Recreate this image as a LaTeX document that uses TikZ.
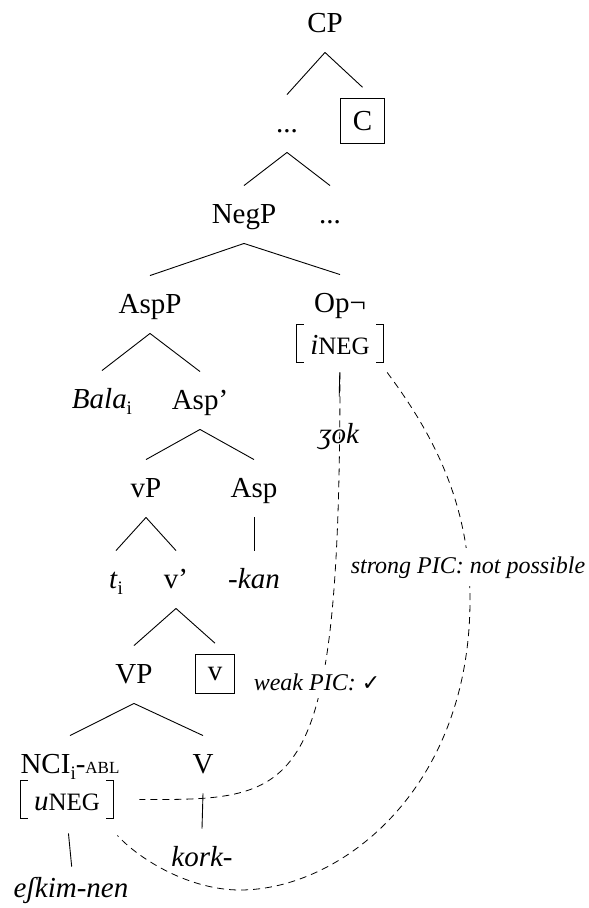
\documentclass[tikz,border=0pt]{standalone}
\usepackage{fontspec}
\setmainfont{Liberation Serif}
\newfontfamily\checkfont{DejaVu Sans}
\newcommand\subi{\raisebox{-6pt}{\fontsize{19}{19}\selectfont\upshape i}}
\newcommand\smallcapsfake[1]{{\fontsize{17}{17}\selectfont #1}}
\newcommand\featcaps[1]{{\fontsize{25}{25}\selectfont\upshape #1}}
\newcommand\featbr[1]{%
  \draw[brk] ([xshift=7pt]#1.north west) -- (#1.north west) -- (#1.south west) -- ([xshift=7pt]#1.south west);
  \draw[brk] ([xshift=-7pt]#1.north east) -- (#1.north east) -- (#1.south east) -- ([xshift=-7pt]#1.south east);}
\begin{document}
\begin{tikzpicture}[x=1pt,y=-1pt,line width=0.9pt,
  tn/.style={font=\fontsize{29}{34}\selectfont, anchor=base, text height=24pt, text depth=7pt, inner xsep=1pt, inner ysep=13pt},
  boxnode/.style={draw, line width=1pt, font=\fontsize{29}{34}\selectfont, inner xsep=12pt, inner ysep=13pt, outer ysep=11pt},
  feat/.style={font=\fontsize{29}{34}\selectfont, anchor=base, text height=29pt, text depth=8pt, inner xsep=13pt, inner ysep=0pt},
  brk/.style={line width=1pt},
  lbl/.style={font=\fontsize{24}{28}\selectfont\itshape, anchor=base, fill=white, inner xsep=4pt, inner ysep=8pt},
  picline/.style={dash pattern=on 7pt off 5pt, line width=0.8pt}
]
\useasboundingbox (0,0) rectangle (589,908);
% nodes
\node[tn] (CP) at (325,32) {CP};
\node[tn] (d1) at (287,132) {...};
\node[boxnode] (Cb) at (362.5,121) {C};
\node[tn] (NegP) at (244,223) {NegP};
\node[tn] (d2) at (330,223) {...};
\node[tn] (AspP) at (150,313) {AspP};
\node[tn] (Op) at (340,312) {Op¬};
\node[feat] (ineg) at (340,354) {\textit{i}\featcaps{NEG}};
\node[tn] (Bala) at (102,408) {\textit{Bala}\subi};
\node[tn] (Aspbar) at (200,409) {Asp’};
\node[tn] (zok) at (339,443) {\textit{ʒok}};
\node[tn] (vP) at (146,497) {vP};
\node[tn] (Asp) at (254,497) {Asp};
\node[tn] (t) at (116,588) {\textit{t}\subi};
\node[tn] (vbar) at (176,588) {v’};
\node[tn] (kan) at (254,588) {\textit{-kan}};
\node[tn] (VP) at (134,683) {VP};
\node[boxnode] (vb) at (215,674) {v};
\node[tn] (NCI) at (70,773) {NCI\subi-\smallcapsfake{ABL}};
\node[tn] (V) at (203,773) {V};
\node[feat] (uneg) at (67,810) {\textit{u}\featcaps{NEG}};
\node[tn] (kork) at (202,866) {\textit{kork-}};
\node[tn] (eskim) at (71,897) {\textit{eʃkim-nen}};
\featbr{ineg}
\featbr{uneg}
% branches
\draw (CP.south) -- (d1.north);
\draw (CP.south) -- (Cb.north);
\draw (d1.south) -- (NegP.north);
\draw (d1.south) -- (d2.north);
\draw (NegP.south) -- (AspP.north);
\draw (NegP.south) -- (Op.north);
\draw (AspP.south) -- (Bala.north);
\draw (AspP.south) -- (Aspbar.north);
\draw (Aspbar.south) -- (vP.north);
\draw (Aspbar.south) -- (Asp.north);
\draw (vP.south) -- (t.north);
\draw (vP.south) -- (vbar.north);
\draw (Asp.south) -- (kan.north);
\draw (vbar.south) -- (VP.north);
\draw (vbar.south) -- (vb.north);
\draw (VP.south) -- (NCI.north);
\draw (VP.south) -- (V.north);
\draw (V.south) -- (kork.north);
\draw[shorten <=10pt, shorten >=9pt] (ineg.south) -- (zok.north);
\draw[shorten <=15pt, shorten >=-7pt] (uneg.south) -- (eskim.north);
% agreement paths
\draw[picline] ([yshift=-10pt]ineg.south) .. controls (340,800) and (300,800) .. ([xshift=26pt]uneg.east);
\draw[picline] ([shift={(4,10)}]ineg.south east) .. controls (430,430) and (470,500) .. (470,600)
  .. controls (470,790) and (340,890) .. (240,890)
  .. controls (190,890) and (140,860) .. ([shift={(4,17)}]uneg.south east);
% labels
\node[lbl] (weak) at (317,690) {weak PIC: {\checkfont\upshape\fontsize{22}{24}\selectfont ✓}};
\node[lbl] (strong) at (468,573) {strong PIC: not possible};
\end{tikzpicture}
\end{document}
